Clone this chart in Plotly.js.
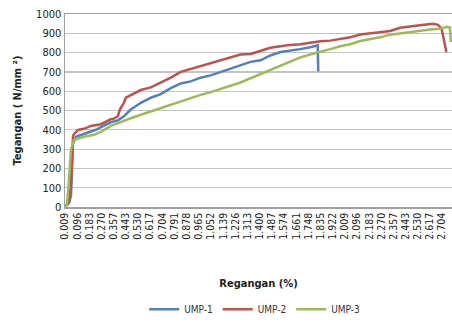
<!DOCTYPE html>
<html>
<head>
<meta charset="utf-8">
<script src="https://cdn.plot.ly/plotly-3.0.1.min.js"></script>
<style>html,body{margin:0;padding:0;background:#fff;}#chart{width:452px;height:324px;}</style>
</head>
<body>
<div id="chart"></div>
<script>
// Strain (%) tick labels shown on the category-like axis
const tickLabels = ["0.009","0.096","0.183","0.270","0.357","0.443","0.530","0.617","0.704","0.791","0.878","0.965","1.052","1.139","1.226","1.313","1.400","1.487","1.574","1.661","1.748","1.835","1.922","2.009","2.096","2.183","2.270","2.357","2.443","2.530","2.617","2.704"];

// UMP-1
const ump1X = [0.009,0.038,0.052,0.060,0.066,0.087,0.144,0.173,0.230,0.266,0.337,0.387,0.430,0.479,0.551,0.622,0.693,0.765,0.836,0.907,0.978,1.050,1.121,1.192,1.263,1.335,1.406,1.477,1.549,1.620,1.691,1.762,1.798,1.815,1.819];
const ump1Y = [0,20,60,250,328,364,379,389,400,414,439,449,470,505,540,566,585,616,640,651,670,682,700,717,735,752,760,785,803,810,818,828,833,838,702];

// UMP-2
const ump2X = [0.009,0.038,0.052,0.060,0.066,0.073,0.102,0.144,0.194,0.266,0.337,0.358,0.387,0.401,0.430,0.444,0.479,0.551,0.622,0.693,0.765,0.836,0.907,0.978,1.050,1.121,1.192,1.263,1.335,1.406,1.477,1.549,1.620,1.691,1.762,1.834,1.905,1.976,2.047,2.119,2.190,2.261,2.333,2.404,2.497,2.575,2.639,2.675,2.700,2.725,2.735];
const ump2Y = [0,30,120,300,364,379,399,405,420,429,455,458,470,505,540,566,580,606,620,645,670,700,715,727,742,758,775,790,793,808,825,833,840,843,850,859,862,869,879,894,899,904,912,929,939,944,949,944,925,830,803];

// UMP-3
const ump3X = [0.009,0.023,0.038,0.052,0.073,0.144,0.216,0.266,0.337,0.387,0.479,0.551,0.622,0.693,0.765,0.836,0.907,0.978,1.050,1.121,1.192,1.263,1.335,1.406,1.477,1.549,1.620,1.691,1.762,1.834,1.905,1.976,2.047,2.119,2.190,2.261,2.333,2.404,2.525,2.618,2.689,2.710,2.739,2.760,2.767];
const ump3Y = [0,10,150,298,348,364,374,390,420,435,460,478,495,510,530,548,565,581,595,610,628,645,667,692,712,735,755,775,790,803,818,833,843,860,869,879,893,900,909,920,924,929,934,930,855];

const tickVals = tickLabels.map(Number);
const font = "'Liberation Sans Narrow','DejaVu Sans Condensed',Arial,sans-serif";

const traces = [
  {x: ump1X, y: ump1Y, name: "UMP-1", mode: "lines", line: {color: "#4F81BD", width: 2.5}},
  {x: ump2X, y: ump2Y, name: "UMP-2", mode: "lines", line: {color: "#C0504D", width: 2.5}},
  {x: ump3X, y: ump3Y, name: "UMP-3", mode: "lines", line: {color: "#9BBB59", width: 2.5}}
];

const layout = {
  width: 452, height: 324,
  margin: {l: 65, r: 0, t: 14, b: 112},
  paper_bgcolor: "#fff", plot_bgcolor: "#fff",
  font: {family: font, size: 11, color: "#222"},
  showlegend: true,
  legend: {orientation: "h", x: 0.49, xanchor: "center", y: -0.53, yanchor: "middle", font: {size: 10, color: "#333"}, itemwidth: 30, tracegroupgap: 0},
  xaxis: {
    range: [0.009, 2.775], tickmode: "array", tickvals: tickVals, ticktext: tickLabels,
    tickangle: -90, tickfont: {size: 10.5, color: "#222"}, ticks: "", showgrid: false, zeroline: false,
    showline: true, linecolor: "#a0a0a0", linewidth: 1.5, mirror: true, automargin: false,
    title: {text: "<b>Regangan (%)</b>", font: {size: 11, color: "#222"}, standoff: 40}
  },
  yaxis: {
    range: [0, 1000], dtick: 100, tickfont: {size: 11, color: "#222"}, ticks: "",
    showgrid: true, gridcolor: "#c4c4c4", gridwidth: 1.2, zeroline: false, automargin: false,
    showline: true, linecolor: "#a0a0a0", linewidth: 1.5, mirror: true,
    title: {text: "<b>Tegangan ( N/mm ²)</b>", font: {size: 11, color: "#222"}, standoff: 12}
  }
};

Plotly.newPlot("chart", traces, layout, {staticPlot: true, displayModeBar: false});
</script>
</body>
</html>
